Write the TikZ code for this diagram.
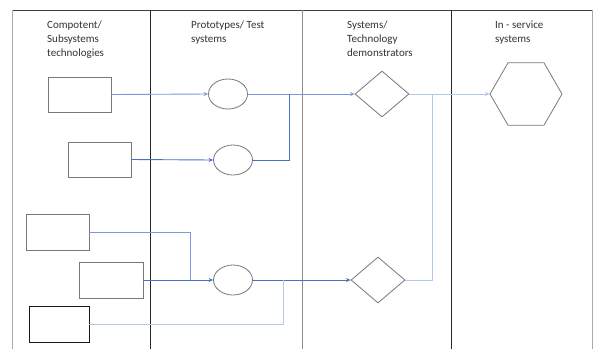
\documentclass[tikz,border=0pt]{standalone}
\usepackage{fontspec}
\setmainfont{Carlito}
\usetikzlibrary{shapes.geometric,arrows.meta}
\definecolor{strongblue}{RGB}{68,114,196}
\definecolor{midblue}{RGB}{120,155,220}
\definecolor{lightblue}{RGB}{180,199,236}
\definecolor{shapegray}{RGB}{120,120,120}
\definecolor{framegray}{RGB}{170,170,170}
\tikzset{
  header/.style={anchor=north west, align=left, inner sep=0pt,
    font=\fontsize{11}{14}\selectfont, text=black!80},
  box/.style={draw=shapegray, line width=0.8pt, rectangle, inner sep=0pt,
    minimum width=63pt, minimum height=35pt},
  oval/.style={draw=shapegray, line width=0.8pt, ellipse, inner sep=0pt,
    minimum width=39pt, minimum height=30pt},
  rhomb/.style={draw=shapegray, line width=0.8pt, diamond, inner sep=0pt,
    minimum width=54pt, minimum height=46pt},
  hexa/.style={draw=shapegray, line width=0.8pt, regular polygon,
    regular polygon sides=6, inner sep=0pt, minimum size=72pt},
  flow/.style={line width=0.9pt},
  tip/.style={-{Stealth[length=4.5pt,width=4pt]}},
  lane/.style={line width=0.9pt}
}
\begin{document}
\begin{tikzpicture}[x=1pt,y=-1pt]
\useasboundingbox (0,0) rectangle (593,349);
\fill[white] (0,0) rectangle (593,349);

% swimlane frame
\draw[lane, black!75] (12,10) -- (592,10);
\draw[lane, framegray] (12,10) -- (12,349);
\draw[lane, black!85] (150,10) -- (150,349);
\draw[lane, black!45] (302,10) -- (302,349);
\draw[lane, black!85] (451,10) -- (451,349);
\draw[lane, framegray] (592,10) -- (592,349);

% lane headings
\node[header] (h1) at (47,20.5) {Compotent/\\Subsystems\\technologies};
\node[header] (h2) at (191,20.5) {Prototypes/ Test\\systems};
\node[header] (h3) at (347,20.5) {Systems/\\Technology\\demonstrators};
\node[header] (h4) at (495,20.5) {In - service\\systems};

% components
\node[box] (r1) at (79.5,94.5) {};
\node[box] (r2) at (99.5,159.5) {};
\node[box, minimum height=36pt] (r3) at (57.5,232) {};
\node[box, minimum width=64pt, minimum height=36pt] (r4) at (111,280) {};
\node[box, draw=black!90, minimum width=60pt, minimum height=36pt] (r5) at (59,324) {};

% prototypes
\node[oval] (c1) at (228,94) {};
\node[oval] (c2) at (233,160) {};
\node[oval] (c3) at (233,280) {};

% demonstrators
\node[rhomb] (d1) at (382,94) {};
\node[rhomb] (d2) at (378,280) {};

% in-service system
\node[hexa] (hx) at (526,94) {};

% junction points
\coordinate (j1) at (289,94);
\coordinate (j2) at (432,94);
\coordinate (j3) at (190,280);
\coordinate (j4) at (283,280);

% flows
\draw[flow, midblue, tip] (r1.east) -- (c1.west);
\draw[flow, strongblue, tip] (r2.east) -- (c2.west);
\draw[flow, midblue, tip] (c1.east) -- (d1.west);
\draw[flow, strongblue] (c2.east) -| (j1);
\draw[flow, lightblue, tip] (d1.east) -- (hx.west);
\draw[flow, lightblue] (d2.east) -| (j2);
\draw[flow, midblue] (r3.east) -| (j3);
\draw[flow, strongblue, tip] (r4.east) -- (c3.west);
\draw[flow, strongblue, tip] (c3.east) -- (d2.west);
\draw[flow, lightblue] (r5.east) -| (j4);
\end{tikzpicture}
\end{document}
